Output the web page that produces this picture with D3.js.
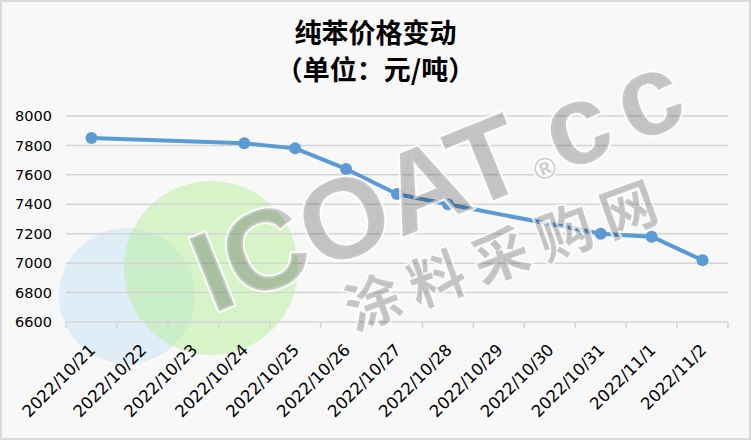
<!DOCTYPE html>
<html>
<head>
<meta charset="utf-8">
<script src="https://cdn.jsdelivr.net/npm/d3@7"></script>
<style>
  body { margin: 0; background: #fff; }
  text { font-family: "Noto Sans CJK SC", "DejaVu Sans", sans-serif; }
</style>
</head>
<body>
<div id="chart"></div>
<script>
const dates = ['2022/10/21', '2022/10/22', '2022/10/23', '2022/10/24', '2022/10/25', '2022/10/26', '2022/10/27',
    '2022/10/28', '2022/10/29', '2022/10/30', '2022/10/31', '2022/11/1', '2022/11/2']
// null = no price that day, line just spans over it
const prices = [7850, null, null, 7815, 7780, 7640, 7470, 7400, null, null, 7200, 7180, 7020]
const yTicks = [6600, 6800, 7000, 7200, 7400, 7600, 7800, 8000]
const titleLines = ['纯苯价格变动', '（单位：元/吨）']

const W = 751, H = 440
const margin = { top: 116, right: 23, bottom: 118, left: 66 }
const width = W - margin.left - margin.right
const height = H - margin.top - margin.bottom
const numFont = '"DejaVu Sans", sans-serif'

const svg = d3.select('#chart').append('svg')
    .attr('width', W)
    .attr('height', H)

svg.append('rect')
    .attr('x', 1).attr('y', 1)
    .attr('width', W - 2).attr('height', H - 2)
    .attr('fill', '#f8f8f8')
    .attr('stroke', '#d9d9d9')
    .attr('stroke-width', 2)

// watermark circles (behind everything)
svg.append('circle').attr('cx', 127).attr('cy', 296).attr('r', 68)
    .attr('fill', '#bfe0f5').attr('opacity', 0.45)
svg.append('circle').attr('cx', 211).attr('cy', 268).attr('r', 87)
    .attr('fill', '#b6f09a').attr('opacity', 0.5)

svg.selectAll('.title')
    .data(titleLines)
    .join('text')
    .attr('x', W / 2)
    .attr('y', (d, i) => 43 + i * 37)
    .attr('text-anchor', 'middle')
    .attr('font-size', 27)
    .attr('font-weight', 'bold')
    .attr('fill', '#000')
    .text(d => d)

const g = svg.append('g').attr('transform', `translate(${margin.left},${margin.top})`)

const x = d3.scaleBand().domain(dates).range([0, width])
const y = d3.scaleLinear().domain([6600, 8000]).range([height, 0])

// gridlines
g.selectAll('.grid')
    .data(yTicks.slice(1))
    .join('line')
    .attr('x1', 0).attr('x2', width)
    .attr('y1', d => y(d)).attr('y2', d => y(d))
    .attr('stroke', '#d4d4d4')
    .attr('stroke-width', 1.5)

const yAxis = g.append('g')
    .call(d3.axisLeft(y).tickValues(yTicks).tickFormat(d3.format('d')).tickSize(0).tickPadding(14))
yAxis.select('.domain').remove()
yAxis.selectAll('text')
    .attr('font-size', 14.5)
    .attr('fill', '#000')
    .style('font-family', numFont)

// x axis: ticks on band edges
const xAxis = g.append('g').attr('transform', `translate(0,${height})`)
xAxis.append('line')
    .attr('x1', 0).attr('x2', width)
    .attr('stroke', '#d4d4d4').attr('stroke-width', 1.5)
xAxis.selectAll('.tick')
    .data(dates.concat(['end']))
    .join('line')
    .attr('x1', (d, i) => i * x.step()).attr('x2', (d, i) => i * x.step())
    .attr('y1', 0).attr('y2', 6)
    .attr('stroke', '#d4d4d4').attr('stroke-width', 1.5)
xAxis.selectAll('.lbl')
    .data(dates)
    .join('text')
    .attr('text-anchor', 'end')
    .attr('font-size', 16.5)
    .attr('fill', '#000')
    .style('font-family', numFont)
    .attr('transform', d => `translate(${x(d) + x.bandwidth() / 2 + 5},${29}) rotate(-45)`)
    .text(d => d)

const pts = dates.map((d, i) => ({ date: d, value: prices[i] })).filter(d => d.value != null)

const line = d3.line()
    .x(d => x(d.date) + x.bandwidth() / 2)
    .y(d => y(d.value))

g.append('path')
    .datum(pts)
    .attr('d', line)
    .attr('fill', 'none')
    .attr('stroke', '#5b9bd5')
    .attr('stroke-width', 4)
    .attr('stroke-linejoin', 'round')

g.selectAll('.dot')
    .data(pts)
    .join('circle')
    .attr('cx', d => x(d.date) + x.bandwidth() / 2)
    .attr('cy', d => y(d.value))
    .attr('r', 6)
    .attr('fill', '#5b9bd5')

// watermark text on top
const wm = svg.append('g').attr('pointer-events', 'none')
const logo = wm.append('text')
    .attr('transform', 'translate(212,314) rotate(-22)')
    .attr('font-size', 114)
    .attr('font-weight', 'bold')
    .style('font-family', '"Liberation Sans", Arial, sans-serif')
    .attr('fill', 'rgba(0,0,0,0.21)')
    .attr('stroke', 'rgba(255,255,255,0.8)')
    .attr('stroke-width', 4)
    .attr('paint-order', 'stroke')
logo.append('tspan').text('ICOAT')
logo.append('tspan').attr('font-size', 30).attr('dx', 6).text('®')
logo.append('tspan').attr('dx', 2).attr('letter-spacing', 14).text('cc')

wm.append('text')
    .attr('transform', 'translate(505,250) rotate(-20)')
    .attr('text-anchor', 'middle')
    .attr('dominant-baseline', 'central')
    .attr('font-size', 56)
    .attr('font-weight', 'bold')
    .attr('letter-spacing', 12)
    .attr('fill', 'rgba(0,0,0,0.21)')
    .attr('stroke', 'rgba(255,255,255,0.8)')
    .attr('stroke-width', 3)
    .attr('paint-order', 'stroke')
    .text('涂料采购网')
</script>
</body>
</html>
